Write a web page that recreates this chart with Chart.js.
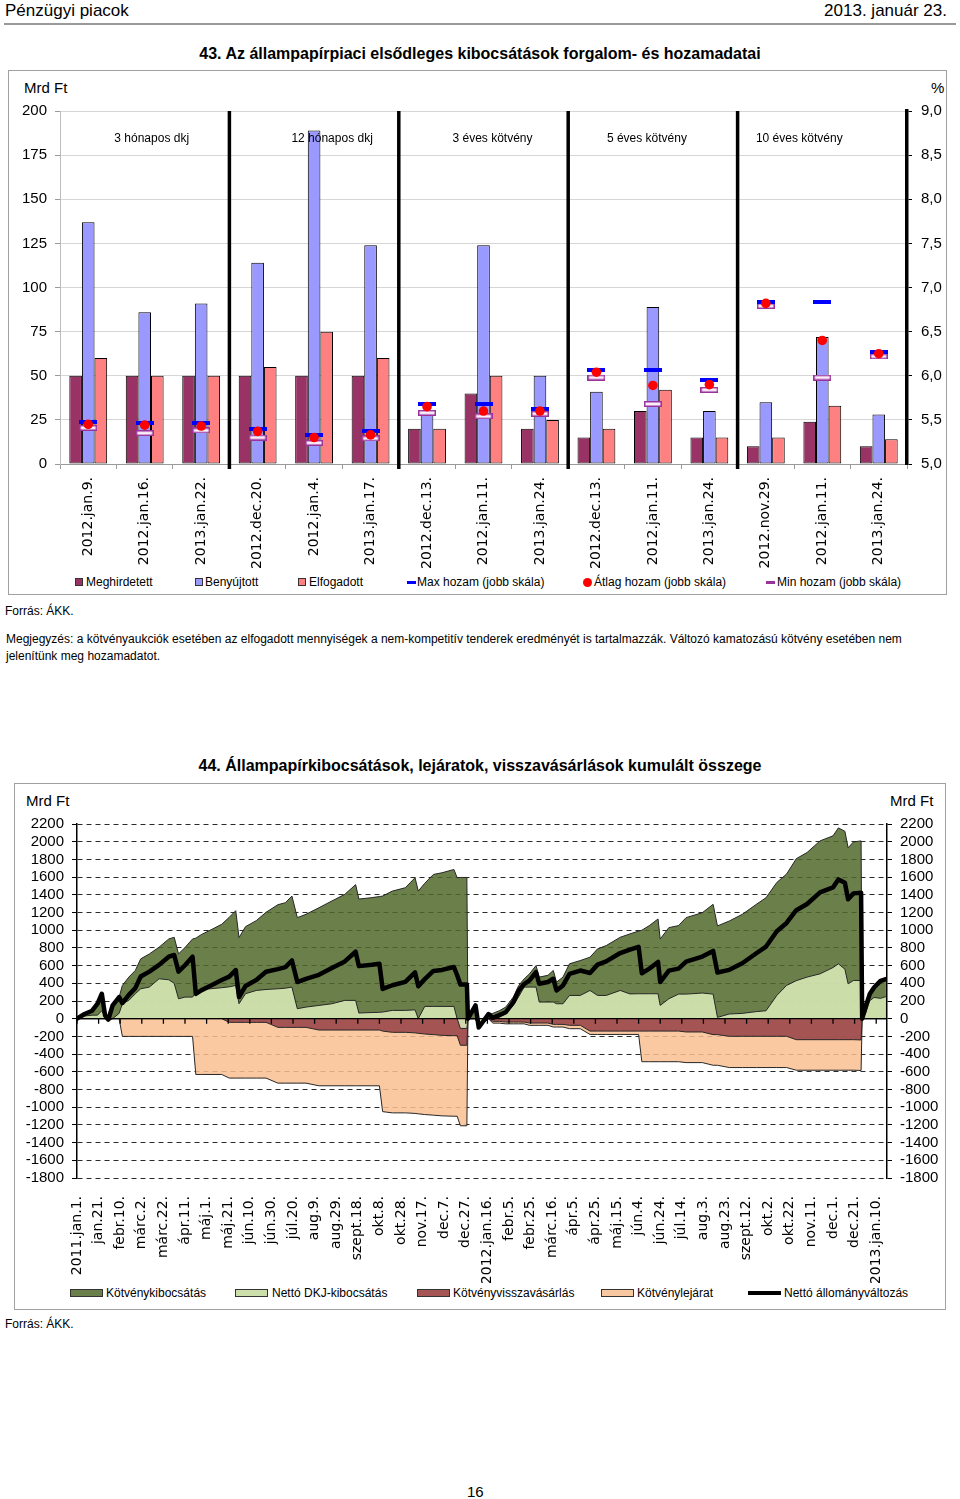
<!DOCTYPE html>
<html><head><meta charset="utf-8">
<script src="https://cdn.jsdelivr.net/npm/chart.js@4.4.1/dist/chart.umd.min.js"></script>
<style>
html,body{margin:0;padding:0;background:#fff;}
body{width:960px;height:1499px;position:relative;font-family:"Liberation Sans",Arial,sans-serif;color:#000;overflow:hidden;}
.a{position:absolute;white-space:nowrap;line-height:1;}
.box{position:absolute;box-sizing:border-box;border:1px solid #a0a0a0;}
.t12{font-size:12px;}
.sq{position:absolute;box-sizing:border-box;border:1px solid #333;}
</style></head><body>

<div class="a" style="left:5px;top:2px;font-size:17px;">Pénzügyi piacok</div>
<div class="a" style="right:13px;top:2px;font-size:17px;">2013. január 23.</div>
<div class="a" style="left:4px;top:23px;width:952px;height:2px;background:#9a9a9a;"></div>

<div class="a" style="left:0;width:960px;top:46px;text-align:center;font-weight:bold;font-size:16px;">43. Az állampapírpiaci elsődleges kibocsátások forgalom- és hozamadatai</div>
<div class="box" style="left:8px;top:70px;width:939px;height:525px;"></div>
<div class="a" style="left:24px;top:80px;font-size:15px;">Mrd Ft</div>
<div class="a" style="left:931px;top:80px;font-size:15px;">%</div>
<div style="position:absolute;left:9px;top:93px;width:937px;height:477px;"><canvas id="c1"></canvas></div>

<div class="sq" style="left:75px;top:578px;width:8px;height:8px;background:#993366;"></div>
<div class="a t12" style="left:86px;top:576px;">Meghirdetett</div>
<div class="sq" style="left:195px;top:578px;width:8px;height:8px;background:#9999FF;"></div>
<div class="a t12" style="left:205px;top:576px;">Benyújtott</div>
<div class="sq" style="left:298px;top:578px;width:8px;height:8px;background:#FF8080;"></div>
<div class="a t12" style="left:309px;top:576px;">Elfogadott</div>
<div class="a" style="left:407px;top:581px;width:9px;height:3px;background:#0000FF;"></div>
<div class="a t12" style="left:417px;top:576px;">Max hozam (jobb skála)</div>
<div class="a" style="left:583px;top:578px;width:9px;height:9px;border-radius:50%;background:#FF0000;"></div>
<div class="a t12" style="left:594px;top:576px;">Átlag hozam (jobb skála)</div>
<div class="a" style="left:766px;top:581px;width:9px;height:3px;background:#993399;"></div>
<div class="a t12" style="left:777px;top:576px;">Min hozam (jobb skála)</div>

<div class="a t12" style="left:5px;top:605px;">Forrás: ÁKK.</div>
<div class="a t12" style="left:6px;top:631px;line-height:17px;">Megjegyzés: a kötvényaukciók esetében az elfogadott mennyiségek a nem-kompetitív tenderek eredményét is tartalmazzák. Változó kamatozású kötvény esetében nem<br>jelenítünk meg hozamadatot.</div>

<div class="a" style="left:0;width:960px;top:758px;text-align:center;font-weight:bold;font-size:16px;">44. Állampapírkibocsátások, lejáratok, visszavásárlások kumulált összege</div>
<div class="box" style="left:14px;top:783px;width:932px;height:527px;"></div>
<div class="a" style="left:26px;top:793px;font-size:15px;">Mrd Ft</div>
<div class="a" style="left:890px;top:793px;font-size:15px;">Mrd Ft</div>
<div style="position:absolute;left:14px;top:807px;width:932px;height:476px;"><canvas id="c2"></canvas></div>

<div class="sq" style="left:70px;top:1289px;width:33px;height:8px;background:#6B7F4B;"></div>
<div class="a t12" style="left:106px;top:1287px;">Kötvénykibocsátás</div>
<div class="sq" style="left:235px;top:1289px;width:33px;height:8px;background:#CCDEAA;"></div>
<div class="a t12" style="left:272px;top:1287px;">Nettó DKJ-kibocsátás</div>
<div class="sq" style="left:417px;top:1289px;width:33px;height:8px;background:#A65555;"></div>
<div class="a t12" style="left:453px;top:1287px;">Kötvényvisszavásárlás</div>
<div class="sq" style="left:601px;top:1289px;width:33px;height:8px;background:#F9C8A0;"></div>
<div class="a t12" style="left:637px;top:1287px;">Kötvénylejárat</div>
<div class="a" style="left:748px;top:1291px;width:33px;height:4px;background:#000;"></div>
<div class="a t12" style="left:784px;top:1287px;">Nettó állományváltozás</div>

<div class="a t12" style="left:5px;top:1318px;">Forrás: ÁKK.</div>
<div class="a" style="left:467px;top:1484px;font-size:15px;">16</div>

<script>
// ---------- Chart 43 data ----------
const categories1 = ['2012.jan.9.','2012.jan.16.','2013.jan.22.','2012.dec.20.','2012.jan.4.','2013.jan.17.','2012.dec.13.','2012.jan.11.','2013.jan.24.','2012.dec.13.','2012.jan.11.','2013.jan.24.','2012.nov.29.','2012.jan.11.','2013.jan.24.'];
const groupNames = ['3 hónapos dkj','12 hónapos dkj','3 éves kötvény','5 éves kötvény','10 éves kötvény'];
const meghirdetett = [50,50,50,50,50,50,20,40,20,15,30,15,10,24,10];
const benyujtott   = [137,86,91,114,189,124,29,124,50,41,89,30,35,72,28];
const elfogadott   = [60,50,50,55,75,60,20,50,25,20,42,15,15,33,14];
const maxHozam   = [5.48,5.47,5.47,5.40,5.33,5.37,5.68,5.68,5.62,6.07,6.07,5.95,6.84,6.84,6.27];
const atlagHozam = [5.45,5.44,5.43,5.37,5.30,5.33,5.65,5.60,5.60,6.04,5.89,5.90,6.82,6.40,6.25];
const minHozam   = [5.41,5.35,5.38,5.30,5.24,5.29,5.58,5.54,5.57,5.98,5.68,5.84,6.79,5.98,6.22];

// ---------- Chart 44 data (day index from 2011.jan.1.) ----------
const xLabels2 = ['2011.jan.1.','jan.21.','febr.10.','márc.2.','márc.22.','ápr.11.','máj.1.','máj.21.','jún.10.','jún.30.','júl.20.','aug.9.','aug.29.','szept.18.','okt.8.','okt.28.','nov.17.','dec.7.','dec.27.','2012.jan.16.','febr.5.','febr.25.','márc.16.','ápr.5.','ápr.25.','máj.15.','jún.4.','jún.24.','júl.14.','aug.3.','aug.23.','szept.12.','okt.2.','okt.22.','nov.11.','dec.1.','dec.21.','2013.jan.10.'];
const days = [0,7,14,19,23,26,29,33,39,42,48,54,59,67,76,85,90,94,100,107,110,115,125,134,141,147,150,156,166,175,186,193,199,204,212,224,236,248,258,261,273,280,283,292,304,313,316,322,330,338,349,352,355,361,
362,369,372,381,385,391,397,404,409,414,419,425,428,436,441,444,450,456,466,475,482,490,503,512,520,523,530,538,540,548,557,564,579,589,593,604,616,629,638,648,657,666,676,688,700,705,711,714,719,726,
727,730,734,738,744,749];
const dkj = [0,30,40,40,90,20,-20,0,60,169,207,282,338,357,451,440,400,225,244,244,300,330,340,350,360,376,169,282,319,330,338,345,357,113,131,150,169,207,207,64,70,72,75,94,94,100,0,139,139,139,139,0,-110,-110,
0,0,-100,0,0,20,60,150,250,357,357,357,188,188,188,169,169,263,263,319,263,263,319,280,282,282,282,282,150,225,278,278,290,278,15,53,60,80,90,263,376,430,470,507,578,620,560,394,432,432,
0,53,203,240,230,250];
const kotveny = [0,23,50,129,192,18,10,150,184,207,263,263,338,375,357,461,520,507,560,657,610,620,670,717,786,845,747,758,789,872,950,966,1029,1029,1048,1104,1161,1198,1308,1288,1298,1308,1311,1348,1386,1493,1442,1391,1491,1510,1547,1593,1596,1596,
0,150,0,53,60,70,71,94,126,93,150,243,282,302,357,244,301,357,394,376,526,563,601,678,708,718,770,845,750,804,774,864,908,1014,1033,1051,1119,1212,1277,1277,1258,1378,1408,1502,1488,1536,1558,1537,1566,1577,
0,75,75,113,198,197];
const visszavasarlas = [0,0,0,0,0,0,0,0,0,0,0,0,0,0,0,0,0,0,0,0,0,0,0,0,-41,-41,-41,-41,-41,-41,-98,-98,-98,-98,-98,-128,-128,-128,-128,-128,-128,-128,-140,-154,-154,-160,-165,-173,-180,-188,-192,-192,-190,-190,
0,0,0,0,-30,-30,-38,-38,-38,-38,-49,-49,-49,-49,-64,-64,-64,-75,-75,-140,-140,-140,-140,-140,-140,-140,-140,-140,-140,-140,-140,-150,-150,-180,-180,-199,-199,-199,-199,-199,-199,-237,-237,-237,-237,-237,-237,-237,-237,-240,
0,0,0,0,0,0];
const lejarat = [0,0,0,0,0,0,0,0,0,-200,-200,-200,-200,-200,-200,-200,-200,-200,-200,-200,-630,-630,-630,-630,-630,-630,-630,-630,-630,-630,-630,-630,-630,-630,-630,-630,-630,-630,-630,-630,-630,-630,-910,-910,-910,-910,-910,-910,-910,-910,-910,-910,-910,-910,
0,0,0,0,-20,-20,-20,-20,-20,-20,-26,-26,-26,-26,-30,-30,-30,-38,-38,-38,-38,-38,-38,-38,-38,-346,-346,-346,-346,-346,-346,-346,-346,-346,-346,-353,-353,-353,-353,-353,-353,-345,-345,-345,-345,-345,-345,-345,-345,-345,
0,0,0,0,0,0];
const nettoValtozas = [0,53,90,169,282,38,-10,150,244,176,270,345,476,532,608,701,720,532,604,701,280,320,380,437,475,550,245,369,437,531,560,583,658,414,451,496,572,647,757,594,610,622,336,378,416,523,367,447,540,551,584,491,386,386,
0,150,-100,53,10,40,73,186,318,392,432,525,395,415,451,319,376,507,544,517,611,648,742,780,812,514,566,641,414,543,566,646,702,766,522,552,627,740,815,988,1082,1226,1296,1427,1484,1574,1536,1349,1416,1424,
0,128,278,353,428,447];

// ---------- helpers ----------
const tickFont = {family:'"Liberation Sans", Arial, sans-serif', size:15};
const catFont = {family:'"DejaVu Sans", Verdana, sans-serif', size:14};

const maxImg = (() => { const c = document.createElement('canvas'); c.width = 18; c.height = 4;
  const g = c.getContext('2d'); g.fillStyle = '#0000FF'; g.fillRect(0,0,18,4); return c; })();
const minImg = (() => { const c = document.createElement('canvas'); c.width = 18; c.height = 6;
  const g = c.getContext('2d'); g.fillStyle = '#fbeefb'; g.fillRect(0,0,18,6);
  g.strokeStyle = '#993399'; g.lineWidth = 1.5; g.strokeRect(0.75,0.75,16.5,4.5); return c; })();

const groupPlugin = {
  id: 'groups',
  afterDatasetsDraw(chart) {
    const {ctx, chartArea: a, scales: {x}} = chart;
    ctx.save();
    ctx.strokeStyle = '#000'; ctx.lineWidth = 3.5;
    for (let g = 1; g < groupNames.length; g++) {
      const i = g * 3 - 1;
      const px = (x.getPixelForTick(i) + x.getPixelForTick(i + 1)) / 2;
      ctx.beginPath(); ctx.moveTo(px, a.top); ctx.lineTo(px, a.bottom + 5); ctx.stroke();
    }
    ctx.fillStyle = '#000';
    ctx.font = '12px "Liberation Sans", Arial, sans-serif';
    ctx.textAlign = 'center'; ctx.textBaseline = 'middle';
    const offs = [7, 18, 9, -6, -23];
    groupNames.forEach((n, g) => ctx.fillText(n, x.getPixelForTick(g * 3 + 1) + offs[g], a.top + 28));
    ctx.restore();
  }
};

const barBase = {borderColor:'#000', borderWidth:1, borderSkipped:false, categoryPercentage:0.67, barPercentage:1.0, yAxisID:'y', order:2};

new Chart(document.getElementById('c1'), {
  type: 'bar',
  data: {
    labels: categories1,
    datasets: [
      Object.assign({label:'Meghirdetett', data:meghirdetett, backgroundColor:'#993366'}, barBase),
      Object.assign({label:'Benyújtott', data:benyujtott, backgroundColor:'#9999FF'}, barBase),
      Object.assign({label:'Elfogadott', data:elfogadott, backgroundColor:'#FF8080'}, barBase),
      {type:'line', label:'Max hozam (jobb skála)', data:maxHozam, yAxisID:'y2', showLine:false, pointStyle:maxImg, pointRadius:9, order:1},
      {type:'line', label:'Átlag hozam (jobb skála)', data:atlagHozam, yAxisID:'y2', showLine:false, pointStyle:'circle', pointRadius:4.8, pointBackgroundColor:'#FF0000', pointBorderColor:'#FF0000', pointBorderWidth:0, order:0},
      {type:'line', label:'Min hozam (jobb skála)', data:minHozam, yAxisID:'y2', showLine:false, pointStyle:minImg, pointRadius:9, order:1}
    ]
  },
  options: {
    responsive:true, maintainAspectRatio:false, animation:false,
    layout:{padding:{top:0, left:0, right:0, bottom:0}},
    plugins:{legend:{display:false}, tooltip:{enabled:false}},
    scales:{
      x:{
        grid:{display:true, drawOnChartArea:false, drawTicks:true, tickLength:5, color:'#9a9a9a', offset:true},
        border:{display:true, color:'#9a9a9a'},
        ticks:{minRotation:90, maxRotation:90, autoSkip:false, padding:8, color:'#000', font:catFont},
        afterFit(s){ s.height = 106; }
      },
      y:{
        position:'left', min:0, max:200,
        ticks:{stepSize:25, autoSkip:false, padding:8, color:'#000', font:tickFont},
        grid:{color:'#d6d6d6', tickLength:5, tickColor:'#9a9a9a'},
        border:{display:true, color:'#bdbdbd'},
        afterFit(s){ s.width = 51; }
      },
      y2:{
        position:'right', min:5, max:9,
        ticks:{stepSize:0.5, autoSkip:false, padding:9, color:'#000', font:tickFont, callback:v => Number(v).toFixed(1).replace('.', ',')},
        grid:{drawOnChartArea:false, tickLength:5, color:'#000'},
        border:{display:true, color:'#000', width:3.5},
        afterFit(s){ s.width = 39; }
      }
    }
  },
  plugins:[groupPlugin]
});

// ---------- Chart 44 ----------
const pts = arr => days.map((d, i) => ({x:d, y:arr[i]}));
const negPts = arr => days.map((d, i) => ({x:d, y:(arr[i] === 0 ? -1e-6 : arr[i])}));

const zeroAxis = {
  id:'zeroAxis',
  beforeDatasetDraw(chart, args) {
    if (args.index !== 4) return;
    const {ctx, chartArea:a, scales:{x, y}} = chart;
    const y0 = y.getPixelForValue(0);
    ctx.save();
    ctx.strokeStyle = '#000'; ctx.lineWidth = 1.3;
    ctx.beginPath(); ctx.moveTo(a.left, y0); ctx.lineTo(a.right, y0);
    x.ticks.forEach(t => { const px = x.getPixelForValue(t.value); ctx.moveTo(px, y0); ctx.lineTo(px, y0 + 5); });
    ctx.stroke();
    ctx.restore();
  }
};

const areaBase = {borderColor:'#262626', borderWidth:1, pointRadius:0, tension:0, fill:'origin', stack:'a', order:1};
const plain = v => String(v);

new Chart(document.getElementById('c2'), {
  type:'line',
  data:{
    datasets:[
      Object.assign({label:'Nettó DKJ-kibocsátás', data:pts(dkj), backgroundColor:'rgba(221,239,187,0.85)'}, areaBase),
      Object.assign({label:'Kötvénykibocsátás', data:pts(kotveny), backgroundColor:'rgba(81,105,44,0.85)'}, areaBase),
      Object.assign({label:'Kötvényvisszavásárlás', data:negPts(visszavasarlas), backgroundColor:'rgba(150,65,72,0.85)'}, areaBase),
      Object.assign({label:'Kötvénylejárat', data:negPts(lejarat), backgroundColor:'rgba(249,191,144,0.85)'}, areaBase),
      {label:'Nettó állományváltozás', data:pts(nettoValtozas), borderColor:'#000', borderWidth:4.5, pointRadius:0, tension:0, fill:false, stack:'b', order:0, borderJoinStyle:'round', borderCapStyle:'round'}
    ]
  },
  options:{
    responsive:true, maintainAspectRatio:false, animation:false,
    layout:{padding:{top:0, left:0, right:0, bottom:0}},
    plugins:{legend:{display:false}, tooltip:{enabled:false}},
    scales:{
      x:{
        type:'linear', min:0, max:750,
        grid:{display:false}, border:{display:false},
        afterBuildTicks(s){ s.ticks = xLabels2.map((_, i) => ({value:i * 20})); },
        ticks:{autoSkip:false, minRotation:90, maxRotation:90, padding:10, color:'#000', font:catFont,
               callback:v => xLabels2[Math.round(v / 20)] || ''},
        afterFit(s){ s.height = 105; }
      },
      y:{
        stacked:true, position:'left', min:-1800, max:2200,
        ticks:{stepSize:200, autoSkip:false, padding:8, color:'#000', font:tickFont, callback:plain},
        grid:{color:'#2a2a2a', lineWidth:1, tickLength:5, tickColor:'#000'},
        border:{display:true, color:'#000', width:1.5, dash:[5,4]},
        afterFit(s){ s.width = 63; }
      },
      y2:{
        position:'right', min:-1800, max:2200,
        ticks:{stepSize:200, autoSkip:false, padding:8, color:'#000', font:tickFont, callback:plain},
        grid:{drawOnChartArea:false, tickLength:5, color:'#000'},
        border:{display:true, color:'#000', width:1.5},
        afterFit(s){ s.width = 59; }
      }
    }
  },
  plugins:[zeroAxis]
});
</script>
</body></html>
